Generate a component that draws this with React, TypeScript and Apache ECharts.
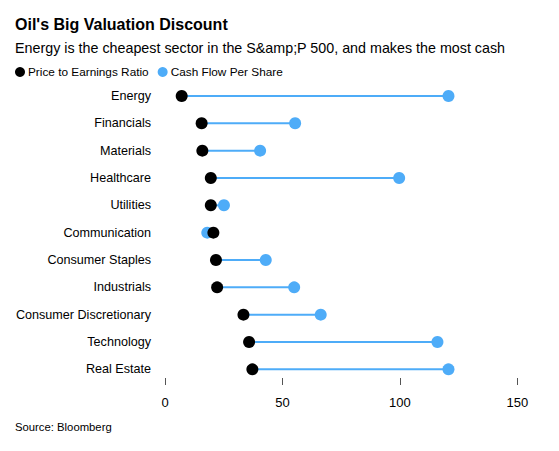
import React, { useEffect, useRef } from "react";
import * as echarts from "echarts";

const categories = [
  "Energy",
  "Financials",
  "Materials",
  "Healthcare",
  "Utilities",
  "Communication",
  "Consumer Staples",
  "Industrials",
  "Consumer Discretionary",
  "Technology",
  "Real Estate",
];
const peRatio = [7.1, 15.6, 15.9, 19.5, 19.5, 20.6, 21.7, 22.2, 33.4, 35.8, 37.2];
const cashFlow = [120.7, 55.4, 40.5, 99.7, 25.1, 18.0, 42.9, 55.0, 66.3, 116.0, 120.7];
const xTicks = [0, 50, 100, 150];

const FONT = "'Liberation Sans', Arial, Helvetica, sans-serif";
const BLUE = "#4eacf8";

export default function App() {
  const ref = useRef<HTMLDivElement>(null);
  useEffect(() => {
    if (!ref.current) return;
    const chart = echarts.init(ref.current, null, { renderer: "svg" });
    const segData = categories.map((c, i) => [i, peRatio[i], cashFlow[i]]);
    chart.setOption({
      animation: false,
      backgroundColor: "#ffffff",
      textStyle: { fontFamily: FONT },
      title: [
        {
          text: "Oil's Big Valuation Discount",
          left: 15,
          top: 16,
          padding: 0,
          textStyle: { fontFamily: FONT, fontSize: 16, fontWeight: "bold", color: "#000" },
        },
        {
          text: "Energy is the cheapest sector in the S&amp;P 500, and makes the most cash",
          left: 15,
          top: 41,
          padding: 0,
          textStyle: { fontFamily: FONT, fontSize: 14.3, fontWeight: "normal", color: "#000" },
        },
        {
          text: "Source: Bloomberg",
          left: 15,
          top: 421,
          padding: 0,
          textStyle: { fontFamily: FONT, fontSize: 11.3, fontWeight: "normal", color: "#000" },
        },
      ],
      legend: {
        left: 10,
        top: 61,
        icon: "circle",
        itemWidth: 10,
        itemHeight: 10,
        itemGap: 9,
        selectedMode: false,
        textStyle: { fontFamily: FONT, fontSize: 11.8, color: "#000", padding: [0, 0, 0, -2] },
        data: ["Price to Earnings Ratio", "Cash Flow Per Share"],
      },
      grid: { left: 165, right: 41.7, top: 82.3, bottom: 451 - 383, containLabel: false },
      xAxis: {
        type: "value",
        min: 0,
        max: 150,
        interval: 50,
        offset: -5,
        axisLine: { show: false },
        axisTick: { show: true, length: 7, lineStyle: { color: "#555", width: 1 } },
        splitLine: { show: false },
        axisLabel: {
          margin: 18,
          fontFamily: FONT,
          fontSize: 13,
          color: "#000",
          formatter: (v: number) => (xTicks.includes(v) ? String(v) : ""),
        },
      },
      yAxis: {
        type: "category",
        data: categories,
        inverse: true,
        axisLine: { show: false },
        axisTick: { show: false },
        axisLabel: { margin: 14, fontFamily: FONT, fontSize: 12.6, color: "#000" },
      },
      series: [
        {
          type: "custom",
          name: "seg",
          silent: true,
          data: segData,
          encode: { x: [1, 2], y: 0 },
          renderItem: (params: any, api: any) => {
            const i = api.value(0);
            const p1 = api.coord([api.value(1), i]);
            const p2 = api.coord([api.value(2), i]);
            return {
              type: "line",
              shape: { x1: p1[0], y1: p1[1], x2: p2[0], y2: p2[1] },
              style: { stroke: BLUE, lineWidth: 2 },
            };
          },
          z: 1,
        },
        {
          type: "scatter",
          name: "Cash Flow Per Share",
          data: cashFlow.map((v, i) => [v, i]),
          symbolSize: 12,
          itemStyle: { color: BLUE, opacity: 1 },
          z: 2,
        },
        {
          type: "scatter",
          name: "Price to Earnings Ratio",
          data: peRatio.map((v, i) => [v, i]),
          symbolSize: 12,
          itemStyle: { color: "#000", opacity: 1 },
          z: 3,
        },
      ],
    });
    return () => chart.dispose();
  }, []);
  return <div ref={ref} style={{ width: 559, height: 451, position: "absolute", left: 0, top: 0 }} />;
}
